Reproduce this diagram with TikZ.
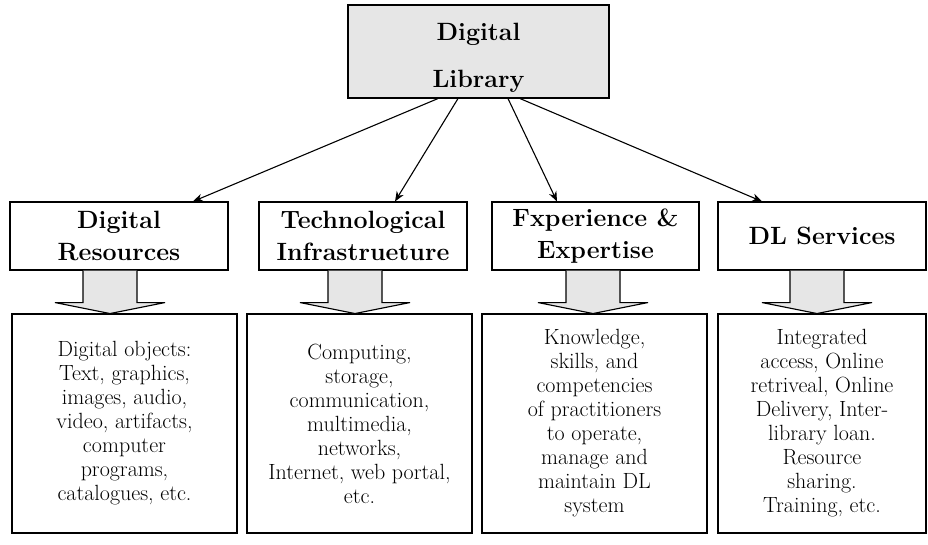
\documentclass[tikz,border=0pt]{standalone}
\usepackage{tikz}
\usetikzlibrary{calc,arrows.meta}
\definecolor{boxgray}{RGB}{230,230,230}

\begin{document}
\begin{tikzpicture}[x=1pt,y=-1pt,line width=1.1pt,
  headbox/.style={draw,align=center,inner sep=0pt,minimum height=68pt,font=\fontsize{25}{32}\selectfont\bfseries},
  bodybox/.style={draw,align=center,inner sep=0pt,minimum height=219pt,font=\fontsize{22}{24}\selectfont},
  link/.style={-{Stealth[length=10pt,width=8pt]}}]
\useasboundingbox(0,0)rectangle(928,544);
\node[draw,fill=boxgray,align=center,inner sep=0pt,minimum width=261pt,minimum height=93pt,font=\fontsize{25}{47}\selectfont\bfseries](dl)at(478.5,51.5){\rule{0pt}{29pt}Digital\\Library};
% second row
\node[headbox,minimum width=218pt](r1)at(119,236){Digital\\Resources};
\node[headbox,minimum width=208pt](r2)at(363,236){Technological\\Infrastrueture};
\node[headbox,minimum width=207pt](r3)at(595.5,236){Fxperience \&\\Expertise};
\node[headbox,minimum width=208pt](r4)at(822,236){DL Services};
% third row
\node[bodybox,minimum width=225pt](b1)at(124.5,423.5){Digital objects:\\Text, graphics,\\images, audio,\\video, artifacts,\\computer\\programs,\\catalogues, etc.};
\node[bodybox,minimum width=225pt](b2)at(359.5,423.5){Computing,\\storage,\\communication,\\multimedia,\\networks,\\Internet, web portal,\\etc.};
\node[bodybox,minimum width=225pt](b3)at(594.5,423.5){Knowledge,\\skills, and\\competencies\\of practitioners\\to operate,\\manage and\\maintain DL\\system};
\node[bodybox,minimum width=208pt](b4)at(822,423.5){Integrated\\access, Online\\retriveal, Online\\Delivery, Inter-\\library loan.\\Resource\\sharing.\\Training, etc.};
% arrows from the top
\draw[link]($(dl.south)+(-40.5,0)$)--($(r1.north)+(74,0)$);
\draw[link]($(dl.south)+(-20.5,0)$)--($(r2.north)+(32,0)$);
\draw[link]($(dl.south)+(29.5,0)$)--($(r3.north)+(-38.5,0)$);
\draw[link]($(dl.south)+(41.5,0)$)--($(r4.north)+(-60,0)$);
% block arrows
\foreach \n/\o in {r1/-9,r2/-8,r3/-2.5,r4/-5}
  \draw[fill=boxgray]($(\n.south)+(\o-27,0)$)--++(0,32)--++(-28,0)--++(55,11)--++(55,-11)--++(-28,0)--++(0,-32);
\end{tikzpicture}
\end{document}
